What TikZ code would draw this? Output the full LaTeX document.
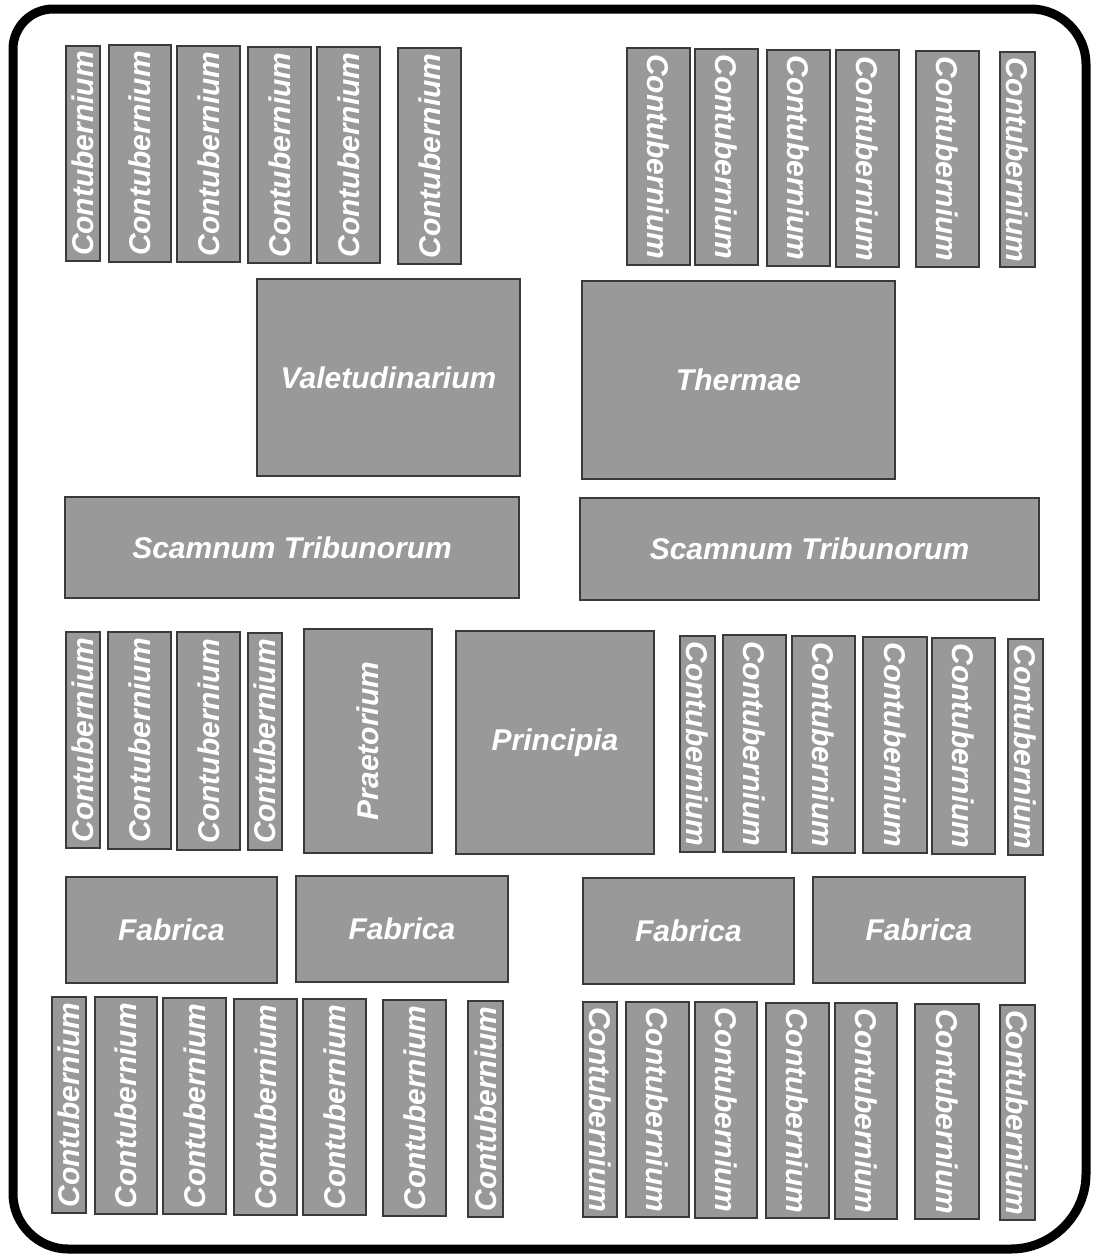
\documentclass[tikz,border=0pt]{standalone}
\usepackage{fontspec}
\usepackage{graphicx}
\setmainfont{Liberation Sans}
\definecolor{boxfill}{HTML}{999999}
\definecolor{boxline}{HTML}{3A3A3A}
\tikzset{
  box/.style={draw=boxline, line width=1.2pt, fill=boxfill, inner sep=0pt,
    text=white, font=\fontsize{30}{31}\selectfont\bfseries\itshape},
  frame/.style={draw=black, line width=9pt, line join=round}
}
\newcommand\bx[6]{\node[box, minimum width={#4-#2}, minimum height={#5-#3}] (#1) at ({(#2+#4)/2},{(#3+#5)/2}) {#6};}
\newcommand\up[1]{\rotatebox{90}{#1}}
\newcommand\dn[1]{\rotatebox{-90}{#1}}
\begin{document}
\begin{tikzpicture}[x=1pt,y=-1pt]
\useasboundingbox (0,0) rectangle (1094,1256);
\fill[white] (0,0) rectangle (1094,1256);
% outer wall
\draw[frame] (13,49) .. controls (13,27) and (31,9) .. (53,9)
  -- (1031,9) .. controls (1061,9) and (1086,34) .. (1086,64)
  -- (1086,1174) .. controls (1086,1215) and (1052,1249) .. (1011,1249)
  -- (68,1249) .. controls (38,1249) and (13,1224) .. (13,1194) -- cycle;
% top-left contubernia
\bx{tl1}{66}{46}{100}{261}{\up{Contubernium}}
\bx{tl2}{109}{45}{171}{262}{\up{Contubernium}}
\bx{tl3}{177}{46}{240}{262}{\up{Contubernium}}
\bx{tl4}{248}{47}{311}{263}{\up{Contubernium}}
\bx{tl5}{317}{47}{380}{263}{\up{Contubernium}}
\bx{tl6}{398}{48}{461}{264}{\up{Contubernium}}
% top-right contubernia
\bx{tr1}{627}{48}{690}{265}{\dn{Contubernium}}
\bx{tr2}{695}{49}{758}{265}{\dn{Contubernium}}
\bx{tr3}{767}{50}{830}{266}{\dn{Contubernium}}
\bx{tr4}{836}{50}{899}{267}{\dn{Contubernium}}
\bx{tr5}{916}{51}{979}{267}{\dn{Contubernium}}
\bx{tr6}{1000}{52}{1035}{267}{\dn{Contubernium}}
% large buildings
\bx{valet}{257}{279}{520}{476}{Valetudinarium}
\bx{therm}{582}{281}{895}{479}{Thermae}
\bx{scl}{65}{497}{519}{598}{Scamnum Tribunorum}
\bx{scr}{580}{498}{1039}{600}{Scamnum Tribunorum}
% middle-left
\bx{ml1}{66}{632}{100}{848}{\up{Contubernium}}
\bx{ml2}{108}{632}{171}{849}{\up{Contubernium}}
\bx{ml3}{177}{632}{240}{850}{\up{Contubernium}}
\bx{ml4}{248}{633}{282}{850}{\up{Contubernium}}
\bx{praet}{304}{629}{432}{853}{\up{Praetorium}}
\bx{princ}{456}{631}{654}{854}{Principia}
% middle-right
\bx{mr1}{680}{636}{715}{852}{\dn{Contubernium}}
\bx{mr2}{723}{635}{786}{852}{\dn{Contubernium}}
\bx{mr3}{792}{636}{855}{853}{\dn{Contubernium}}
\bx{mr4}{863}{637}{927}{853}{\dn{Contubernium}}
\bx{mr5}{932}{638}{995}{854}{\dn{Contubernium}}
\bx{mr6}{1008}{639}{1043}{855}{\dn{Contubernium}}
% fabricae
\bx{f1}{66}{877}{277}{983}{Fabrica}
\bx{f2}{296}{876}{508}{982}{Fabrica}
\bx{f3}{583}{878}{794}{984}{Fabrica}
\bx{f4}{813}{877}{1025}{983}{Fabrica}
% bottom-left
\bx{bl1}{52}{997}{86}{1213}{\up{Contubernium}}
\bx{bl2}{95}{997}{157}{1214}{\up{Contubernium}}
\bx{bl3}{163}{998}{226}{1214}{\up{Contubernium}}
\bx{bl4}{234}{999}{297}{1215}{\up{Contubernium}}
\bx{bl5}{303}{999}{366}{1215}{\up{Contubernium}}
\bx{bl6}{383}{1000}{446}{1216}{\up{Contubernium}}
\bx{bl7}{468}{1001}{503}{1217}{\up{Contubernium}}
% bottom-right
\bx{br1}{583}{1002}{617}{1217}{\dn{Contubernium}}
\bx{br2}{626}{1002}{689}{1217}{\dn{Contubernium}}
\bx{br3}{695}{1002}{757}{1218}{\dn{Contubernium}}
\bx{br4}{766}{1003}{829}{1218}{\dn{Contubernium}}
\bx{br5}{835}{1003}{897}{1219}{\dn{Contubernium}}
\bx{br6}{915}{1004}{979}{1219}{\dn{Contubernium}}
\bx{br7}{1000}{1005}{1035}{1220}{\dn{Contubernium}}
\end{tikzpicture}
\end{document}
